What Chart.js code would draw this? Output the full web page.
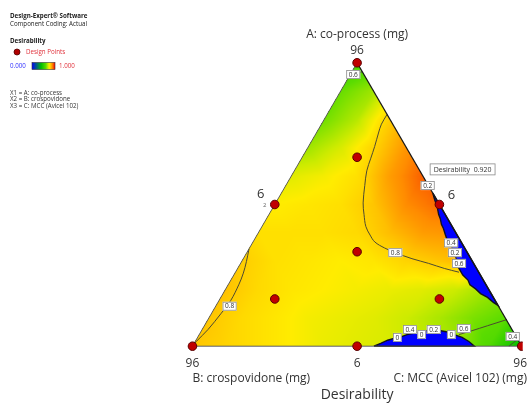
<!DOCTYPE html>
<html>
<head>
<meta charset="utf-8">
<script src="https://cdn.jsdelivr.net/npm/chart.js@4.4.1/dist/chart.umd.min.js"></script>
<style>
  html, body { margin: 0; padding: 0; background: #ffffff; }
  canvas { display: block; }
</style>
</head>
<body>
<canvas id="chart" width="528" height="408"></canvas>
<script>
// Mixture components (mg). Each runs 6..96 with A + B + C = 108.
const componentLow = 6;
const componentHigh = 96;
const axisTitles = ['A: co-process (mg)', 'B: crospovidone (mg)', 'C: MCC (Avicel 102) (mg)'];
const vertexLabels = ['96', '96', '96'];
const edgeLowLabel = '6';

// Design points (simplex centroid with axial check blends), mg
const designA = [96, 6, 6, 51, 51, 6, 36, 66, 21, 21];
const designB = [6, 96, 6, 51, 6, 51, 36, 21, 66, 21];
const designC = [6, 6, 96, 6, 51, 51, 36, 21, 21, 66];

// Desirability on a triangular lattice (10 steps per side).
// Row k: A at its k-th step; entries run from the A-B edge toward the A-C edge.
const desirabilityRows = [
  [0.81, 0.79, 0.77, 0.75, 0.73, 0.72, 0.71, 0.69, 0.66, 0.58, 0.40],
  [0.81, 0.78, 0.76, 0.74, 0.73, 0.72, 0.70, 0.67, 0.63, 0.60],
  [0.815, 0.78, 0.76, 0.75, 0.74, 0.73, 0.72, 0.70, 0.66],
  [0.80, 0.77, 0.76, 0.75, 0.76, 0.79, 0.81, 0.83],
  [0.77, 0.77, 0.77, 0.78, 0.82, 0.86, 0.87],
  [0.75, 0.76, 0.77, 0.81, 0.88, 0.91],
  [0.72, 0.74, 0.77, 0.86, 0.92],
  [0.66, 0.71, 0.79, 0.87],
  [0.62, 0.68, 0.80],
  [0.61, 0.66],
  [0.55]
];

// Contour paths, [A, B, C] in mg
const contour08Right = [[79.6,6.0,22.4],[76.5,9.1,22.4],[73.7,11.3,23.0],[69.4,14.5,24.1],[65.7,17.4,24.9],[61.7,20.5,25.8],[57.0,23.4,27.6],[51.5,26.6,29.9],[47.8,28.2,32.0],[44.0,29.6,34.4],[41.3,29.8,36.9],[39.1,29.6,39.3],[37.2,27.9,42.9],[35.7,25.7,46.6],[33.8,22.1,52.1],[32.3,18.3,57.4],[30.7,14.8,62.5],[29.5,11.4,67.1]];
const contour08Left = [[6,96,6],[7.5,94.2,6.3],[11.3,89.1,7.6],[16.3,83.1,8.6],[20.5,78.3,9.2],[25.5,73.6,8.9],[29.2,70.5,8.3],[32.9,67.8,7.3],[36.9,65.1,6.0]];
const contour06Top = [[93.2,6.0,8.8],[92.1,8.5,7.4],[91.1,10.9,6.0]];
const contour06Bottom = [[14.4,6.0,87.6],[12.5,12.1,83.4],[10.9,17.2,79.9],[9.7,21.3,77.0]];
const contour04Corner = [[8.2,6.0,93.8],[6,9.5,92.5]];

// Regions where desirability is 0, [A, B, C] in mg
const zeroRight = [[54.6,6.0,47.4],[18.9,6.0,83.1],[19.9,6.8,81.3],[21.5,7.6,78.9],[22.7,8.9,76.4],[24.2,9.5,74.3],[25.5,10.4,72.1],[27.0,10.2,70.8],[28.6,10.8,68.6],[30.7,10.8,66.5],[33.2,10.1,64.7],[35.7,9.6,62.7],[37.9,9.3,60.8],[39.7,9.5,58.8],[41.3,9.2,57.5],[43.4,8.7,55.9],[44.7,8.6,54.7],[46.5,8.0,53.5],[47.8,7.8,52.4],[49.6,7.2,51.2],[50.8,6.9,50.3],[52.7,6.5,48.8],[54.6,6.0,47.4]];
const zeroBottom = [[6,46.4,55.6],[6.9,44.1,57.0],[7.9,41.7,58.4],[8.8,38.6,60.6],[9.1,37.1,61.8],[9.7,35.5,62.8],[10.3,32.5,65.2],[10.9,29.8,67.3],[11.2,26.9,69.9],[10.6,24.3,73.1],[9.7,22.6,75.7],[8.8,20.9,78.3],[7.5,19.7,80.8],[6,18.9,83.1],[6,46.4,55.6]];

// Contour level labels and where they sit
const labelTexts = ['0.6', '0.2', '0.8', '0.4', '0.2', '0.6', '0.8', '0', '0.4', '0', '0.2', '0', '0.6', '0.4'];
const labelAt = [[92.3,8.9,6.8],[57.0,6.2,44.8],[35.7,25.7,46.6],[38.8,8.9,60.3],[35.7,9.4,62.9],[32.3,10.0,65.7],[18.7,79.5,9.8],[8.8,38.6,60.6],[11.3,33.9,62.8],[9.7,31.5,66.8],[11.3,27.4,69.3],[9.7,23.4,74.9],[11.6,19.0,77.4],[9.1,6.9,92.0]];

// Optimum flag
const maxDesirability = 0.920;
const maxPoint = [55.8, 6.0, 46.2];

// Design point replicate counts shown beside points
const replicateCounts = [{ at: [51, 51, 6], n: 2 }];

// ---------- geometry ----------
const SPAN = componentHigh - componentLow;
const H = Math.sqrt(3) / 2;
function toXY(p) {
  const a = (p[0] - componentLow) / SPAN;
  const c = (p[2] - componentLow) / SPAN;
  return { x: c + a / 2, y: a * H };
}

// colour ramp for desirability 0..1
const colorStops = [
  [0.00, [0, 0, 255]],
  [0.40, [0, 190, 0]],
  [0.60, [90, 220, 0]],
  [0.70, [205, 235, 0]],
  [0.75, [255, 236, 0]],
  [0.80, [255, 205, 0]],
  [0.88, [255, 140, 0]],
  [0.92, [250, 95, 0]],
  [1.00, [255, 0, 0]]
];
function colorAt(v) {
  v = Math.max(0, Math.min(1, v));
  for (let k = 1; k < colorStops.length; k++) {
    if (v <= colorStops[k][0]) {
      const [v0, c0] = colorStops[k - 1];
      const [v1, c1] = colorStops[k];
      const t = (v - v0) / (v1 - v0);
      return [0, 1, 2].map(i => Math.round(c0[i] + (c1[i] - c0[i]) * t));
    }
  }
  return colorStops[colorStops.length - 1][1];
}

const N = desirabilityRows.length - 1;
function node(i, j) {
  i = Math.max(0, Math.min(N, i));
  const row = desirabilityRows[i];
  j = Math.max(0, Math.min(row.length - 1, j));
  return row[j];
}
function latticeValue(a, c) {
  const u = Math.max(0, a * N), v = Math.max(0, c * N);
  let i0 = Math.floor(u), j0 = Math.floor(v);
  if (i0 >= N) i0 = N - 1;
  if (j0 >= N) j0 = N - 1;
  const fu = u - i0, fv = v - j0;
  if (fu + fv <= 1) {
    return node(i0, j0) * (1 - fu - fv) + node(i0 + 1, j0) * fu + node(i0, j0 + 1) * fv;
  }
  return node(i0 + 1, j0 + 1) * (fu + fv - 1) + node(i0 + 1, j0) * (1 - fv) + node(i0, j0 + 1) * (1 - fu);
}

// ---------- plugins ----------
const fieldPlugin = {
  id: 'desirabilityField',
  beforeDatasetsDraw(chart) {
    const { ctx, scales } = chart;
    const sx = scales.x, sy = scales.y;
    const verts = [[componentHigh, componentLow, componentLow], [componentLow, componentHigh, componentLow], [componentLow, componentLow, componentHigh]]
      .map(p => { const q = toXY(p); return [sx.getPixelForValue(q.x), sy.getPixelForValue(q.y)]; });
    const x0 = Math.floor(Math.min(...verts.map(p => p[0]))) - 1;
    const x1 = Math.ceil(Math.max(...verts.map(p => p[0]))) + 1;
    const y0 = Math.floor(Math.min(...verts.map(p => p[1]))) - 1;
    const y1 = Math.ceil(Math.max(...verts.map(p => p[1]))) + 1;
    const w = x1 - x0, h = y1 - y0;
    const off = document.createElement('canvas');
    off.width = w; off.height = h;
    const octx = off.getContext('2d');
    const img = octx.createImageData(w, h);
    for (let py = 0; py < h; py++) {
      const dy = sy.getValueForPixel(y0 + py + 0.5);
      const a = dy / H;
      for (let px = 0; px < w; px++) {
        const dx = sx.getValueForPixel(x0 + px + 0.5);
        const c = dx - a / 2;
        const b = 1 - a - c;
        if (a < -0.001 || b < -0.001 || c < -0.001) continue;
        const col = colorAt(latticeValue(a, c));
        const k = (py * w + px) * 4;
        img.data[k] = col[0]; img.data[k + 1] = col[1]; img.data[k + 2] = col[2]; img.data[k + 3] = 255;
      }
    }
    octx.putImageData(img, 0, 0);
    ctx.save();
    ctx.drawImage(off, x0, y0);
    ctx.restore();
  }
};

function pix(chart, p) {
  const q = toXY(p);
  return [chart.scales.x.getPixelForValue(q.x), chart.scales.y.getPixelForValue(q.y)];
}

const annotationPlugin = {
  id: 'ternaryText',
  afterDatasetsDraw(chart) {
    const ctx = chart.ctx;
    ctx.save();
    // contour labels
    ctx.font = '6.5px "Open Sans", "DejaVu Sans", sans-serif';
    ctx.textAlign = 'center';
    ctx.textBaseline = 'middle';
    labelTexts.forEach((t, i) => {
      const [x, y] = pix(chart, labelAt[i]);
      const w = ctx.measureText(t).width + 5;
      ctx.fillStyle = '#ffffff';
      ctx.fillRect(x - w / 2, y - 4.5, w, 9);
      ctx.strokeStyle = '#8a8a8a';
      ctx.lineWidth = 0.8;
      ctx.strokeRect(x - w / 2 + 0.5, y - 4, w - 1, 8);
      ctx.fillStyle = '#333333';
      ctx.fillText(t, x, y + 0.3);
    });

    // optimum flag
    const [mx, my] = pix(chart, maxPoint);
    ctx.font = '7px "Open Sans", "DejaVu Sans", sans-serif';
    const flagText = 'Desirability  ' + maxDesirability.toFixed(3);
    const fw = ctx.measureText(flagText).width + 8;
    const fx = mx - 1, fy = my - 26;
    ctx.fillStyle = '#ffffff';
    ctx.fillRect(fx, fy, fw, 12);
    ctx.strokeStyle = '#8a8a8a';
    ctx.lineWidth = 0.8;
    ctx.strokeRect(fx + 0.5, fy + 0.5, fw - 1, 11);
    ctx.fillStyle = '#333333';
    ctx.textAlign = 'left';
    ctx.fillText(flagText, fx + 4, fy + 6.3);

    // replicate counts
    ctx.font = '6px "Open Sans", "DejaVu Sans", sans-serif';
    ctx.fillStyle = '#666666';
    ctx.textAlign = 'center';
    replicateCounts.forEach(r => {
      const [x, y] = pix(chart, r.at);
      ctx.fillText(String(r.n), x - 10, y + 1);
    });
    ctx.restore();
  },
  afterDraw(chart) {
    const ctx = chart.ctx;
    const W = chart.width;
    const vA = pix(chart, [componentHigh, componentLow, componentLow]);
    const vB = pix(chart, [componentLow, componentHigh, componentLow]);
    const vC = pix(chart, [componentLow, componentLow, componentHigh]);
    const mid = (P, Q) => [(P[0] + Q[0]) / 2, (P[1] + Q[1]) / 2];
    ctx.save();
    ctx.fillStyle = '#333333';
    ctx.textBaseline = 'middle';
    ctx.font = '12px "Open Sans", "DejaVu Sans", sans-serif';
    ctx.textAlign = 'center';
    ctx.fillText(axisTitles[0], vA[0], vA[1] - 28);
    ctx.fillText(vertexLabels[0], vA[0], vA[1] - 12);
    ctx.fillText(vertexLabels[1], vB[0], vB[1] + 17);
    const mBC = mid(vB, vC);
    ctx.fillText(edgeLowLabel, mBC[0], mBC[1] + 17);
    ctx.textAlign = 'right';
    ctx.fillText(vertexLabels[2], W - 1, vC[1] + 17);
    ctx.fillText(axisTitles[2], W - 1, vC[1] + 32);
    ctx.textAlign = 'left';
    ctx.fillText(axisTitles[1], vB[0], vB[1] + 32);
    ctx.textAlign = 'center';
    const mAB = mid(vA, vB), mAC = mid(vA, vC);
    ctx.font = '13px "Open Sans", "DejaVu Sans", sans-serif';
    ctx.fillText(edgeLowLabel, mAB[0] - 14, mAB[1] - 10);
    ctx.fillText(edgeLowLabel, mAC[0] + 12, mAC[1] - 9);
    ctx.font = '14px "Open Sans", "DejaVu Sans", sans-serif';
    ctx.fillText('Desirability', vA[0], vB[1] + 49);

    // software legend block
    const small = '6.2px "Open Sans", "DejaVu Sans", sans-serif';
    const smallBold = 'bold 6.2px "Open Sans", "DejaVu Sans", sans-serif';
    ctx.textAlign = 'left';
    ctx.fillStyle = '#222222';
    ctx.font = smallBold;
    ctx.fillText('Design-Expert\u00ae Software', 10, 16);
    ctx.font = small;
    ctx.fillText('Component Coding: Actual', 10, 24);
    ctx.font = smallBold;
    ctx.fillText('Desirability', 10, 41);
    ctx.beginPath();
    ctx.arc(17, 52, 3, 0, Math.PI * 2);
    ctx.fillStyle = '#b00000';
    ctx.fill();
    ctx.strokeStyle = '#500000';
    ctx.lineWidth = 0.8;
    ctx.stroke();
    ctx.font = small;
    ctx.fillStyle = '#e0303a';
    ctx.fillText('Design Points', 26, 52);
    ctx.fillStyle = '#3030ff';
    ctx.fillText('0.000', 10, 66);
    const g = ctx.createLinearGradient(32, 0, 55, 0);
    colorStops.forEach(([v, c]) => g.addColorStop(v, `rgb(${c[0]},${c[1]},${c[2]})`));
    ctx.fillStyle = g;
    ctx.fillRect(32, 62.5, 23, 7);
    ctx.strokeStyle = '#333333';
    ctx.lineWidth = 0.6;
    ctx.strokeRect(32, 62.5, 23, 7);
    ctx.fillStyle = '#e0303a';
    ctx.fillText('1.000', 59, 66);
    ctx.fillStyle = '#333333';
    ctx.fillText('X1 = A: co-process', 10, 93);
    ctx.fillText('X2 = B: crospovidone', 10, 99.5);
    ctx.fillText('X3 = C: MCC (Avicel 102)', 10, 106.5);
    ctx.restore();
  }
};

// ---------- datasets ----------
const mapPts = arr => arr.map(p => toXY(p));
const designPoints = designA.map((a, i) => toXY([a, designB[i], designC[i]]));
const vertexA = [componentHigh, componentLow, componentLow];
const vertexB = [componentLow, componentHigh, componentLow];
const vertexC = [componentLow, componentLow, componentHigh];

const contourStyle = { showLine: true, borderColor: '#4d4a30', borderWidth: 1, pointRadius: 0, tension: 0.35, fill: false, order: 2 };
const zeroStyle = { showLine: true, borderColor: '#101020', borderWidth: 1.4, backgroundColor: '#0000ff', pointRadius: 0, tension: 0, fill: 'shape', order: 3 };

new Chart(document.getElementById('chart'), {
  type: 'scatter',
  data: {
    datasets: [
      { label: 'Design Points', data: designPoints, pointRadius: 4.3, pointBackgroundColor: '#c00000', pointBorderColor: '#5a0000', pointBorderWidth: 1, showLine: false, order: 0 },
      { label: 'edge AB-BC', data: mapPts([vertexA, vertexB, vertexC]), showLine: true, borderColor: '#5e5e5e', borderWidth: 1, pointRadius: 0, tension: 0, fill: false, order: 1 },
      { label: 'edge AC', data: mapPts([vertexA, vertexC]), showLine: true, borderColor: '#1a1a1a', borderWidth: 1.3, pointRadius: 0, tension: 0, fill: false, order: 1 },
      Object.assign({ label: '0.8', data: mapPts(contour08Right) }, contourStyle),
      Object.assign({ label: '0.8', data: mapPts(contour08Left) }, contourStyle),
      Object.assign({ label: '0.6', data: mapPts(contour06Top) }, contourStyle),
      Object.assign({ label: '0.6', data: mapPts(contour06Bottom) }, contourStyle),
      Object.assign({ label: '0.4', data: mapPts(contour04Corner) }, contourStyle),
      Object.assign({ label: '0', data: mapPts(zeroRight) }, zeroStyle),
      Object.assign({ label: '0', data: mapPts(zeroBottom) }, zeroStyle)
    ]
  },
  options: {
    responsive: false,
    animation: false,
    events: [],
    layout: { padding: 0 },
    plugins: { legend: { display: false }, tooltip: { enabled: false }, title: { display: false } },
    scales: {
      x: { type: 'linear', display: false, min: -191 / 336, max: 337 / 336 },
      y: { type: 'linear', display: false, min: -58 / 336, max: 350 / 336 }
    }
  },
  plugins: [fieldPlugin, annotationPlugin]
});
</script>
</body>
</html>
